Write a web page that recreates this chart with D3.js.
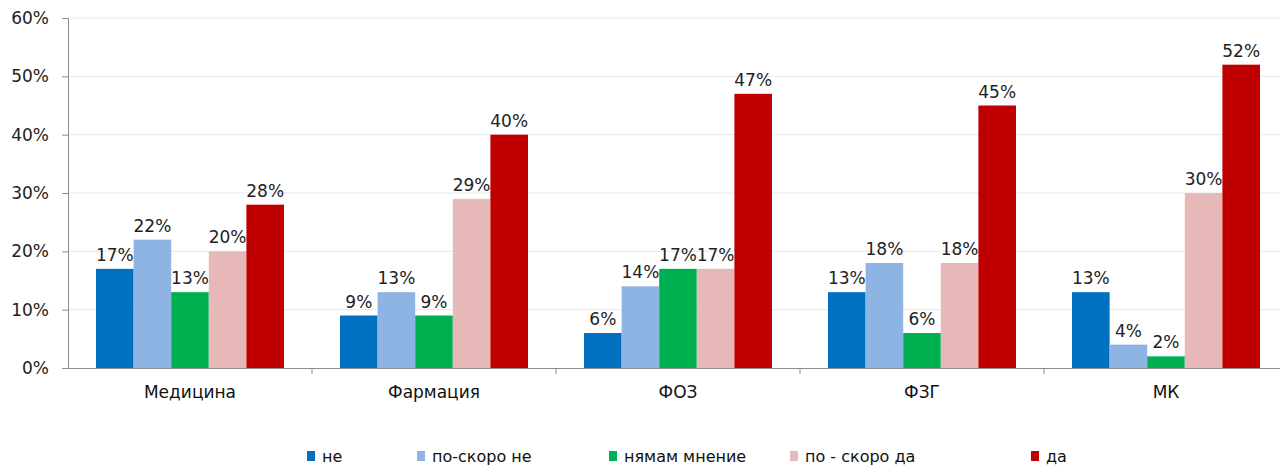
<!DOCTYPE html>
<html><head><meta charset="utf-8">
<script src="https://cdn.jsdelivr.net/npm/d3@7"></script>
<style>body{margin:0;background:#fff;}svg{display:block;font-family:"DejaVu Sans",sans-serif;}</style>
</head><body><svg id="c" width="1280" height="466"></svg>
<script>
const categories = ["Медицина","Фармация","ФОЗ","ФЗГ","МК"];
const seriesNames = ["не","по-скоро не","нямам мнение","по - скоро да","да"];
const seriesColors = ["#0070C0","#8EB4E3","#00B050","#E6B9B8","#C00000"];
const ne = [17,9,6,13,13];
const poSkoroNe = [22,13,14,18,4];
const nyamamMnenie = [13,9,17,6,2];
const poSkoroDa = [20,29,17,18,30];
const da = [28,40,47,45,52];
const yTicks = [0,10,20,30,40,50,60];
const legendX = [307,417,609,790,1031];

(function(){
const FONT = "DejaVu Sans, sans-serif";
const values = [ne,poSkoroNe,nyamamMnenie,poSkoroDa,da];
const svg = d3.select("#c");
const pl=68, pr=1288, pt=18, pb=368;
const x0 = d3.scaleBand().domain(categories).range([pl,pr]).paddingInner(0).paddingOuter(0);
const x1 = d3.scaleBand().domain(seriesNames).range([0,x0.bandwidth()]).paddingOuter(0.745).paddingInner(0);
const y = d3.scaleLinear().domain([0,60]).range([pb,pt]);

svg.append("g").selectAll("line").data(yTicks.filter(d=>d>0)).join("line")
  .attr("x1",pl).attr("x2",1280).attr("y1",d=>y(d)).attr("y2",d=>y(d))
  .attr("stroke","#e8e8e8").attr("stroke-width",1);

const ya = svg.append("g").attr("transform",`translate(${pl},0)`)
  .call(d3.axisLeft(y).tickValues(yTicks).tickFormat(d=>d+"%").tickSize(6).tickPadding(13));
ya.select(".domain").attr("stroke","#8c8c8c");
ya.selectAll(".tick line").attr("stroke","#8c8c8c");
ya.selectAll("text").attr("font-size",17).attr("fill","#222").attr("font-family",FONT);

const xa = svg.append("g").attr("transform",`translate(0,${pb})`)
  .call(d3.axisBottom(x0).tickSize(0).tickPadding(18));
xa.select(".domain").attr("stroke","#8c8c8c");
xa.selectAll("text").attr("font-size",17).attr("fill","#111").attr("font-family",FONT);
svg.append("g").selectAll("line").data(categories).join("line")
  .attr("x1",c=>x0(c)+x0.bandwidth()).attr("x2",c=>x0(c)+x0.bandwidth())
  .attr("y1",pb).attr("y2",pb+6).attr("stroke","#8c8c8c");

const g = svg.append("g");
categories.forEach((c,ci)=>{
  seriesNames.forEach((s,si)=>{
    const v = values[si][ci];
    const bx = x0(c)+x1(s);
    g.append("rect").attr("x",bx).attr("y",y(v)).attr("width",x1.bandwidth()).attr("height",pb-y(v))
      .attr("fill",seriesColors[si]);
    g.append("text").attr("x",bx+x1.bandwidth()/2).attr("y",y(v)-8).attr("text-anchor","middle")
      .attr("font-size",17).attr("fill","#222").attr("font-family",FONT).text(v+"%");
  });
});

const lg = svg.append("g");
seriesNames.forEach((s,i)=>{
  lg.append("rect").attr("x",legendX[i]).attr("y",451).attr("width",8).attr("height",10).attr("fill",seriesColors[i]);
  lg.append("text").attr("x",legendX[i]+15).attr("y",462).attr("font-size",16).attr("fill","#111").attr("font-family",FONT).attr("xml:space","preserve").text(s);
});
})();
</script></body></html>
